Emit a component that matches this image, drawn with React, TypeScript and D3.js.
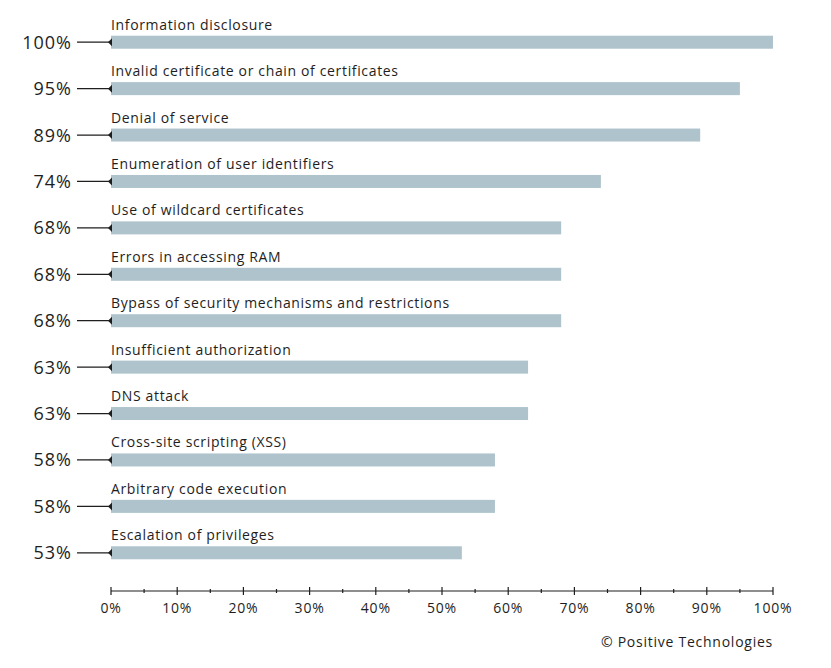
import { useEffect, useRef } from 'react';
import * as d3 from 'd3';

const categories = [
    'Information disclosure',
    'Invalid certificate or chain of certificates',
    'Denial of service',
    'Enumeration of user identifiers',
    'Use of wildcard certificates',
    'Errors in accessing RAM',
    'Bypass of security mechanisms and restrictions',
    'Insufficient authorization',
    'DNS attack',
    'Cross-site scripting (XSS)',
    'Arbitrary code execution',
    'Escalation of privileges',
];
const shares = [100, 95, 89, 74, 68, 68, 68, 63, 63, 58, 58, 53];
const xTicks = [0, 10, 20, 30, 40, 50, 60, 70, 80, 90, 100];

export default function App() {
    const ref = useRef<SVGSVGElement>(null);

    useEffect(() => {
        const svg = d3.select(ref.current);
        svg.selectAll('*').remove();

        const font = '"Open Sans", sans-serif';
        const barColor = '#aec3cc';
        const ink = '#1e1e1e';

        const x = d3.scaleLinear().domain([0, 100]).range([103, 765]);
        const y = d3.scaleBand<number>()
            .domain(d3.range(categories.length))
            .range([11, 568])
            .paddingInner(0);
        const barH = 13;

        const rows = svg.append('g')
            .selectAll('g')
            .data(categories)
            .join('g')
            .attr('transform', (d, i) => `translate(0, ${y(i)! + y.bandwidth() / 2})`);

        // bars
        rows.append('rect')
            .attr('x', x(0))
            .attr('y', -barH / 2)
            .attr('width', (d, i) => x(shares[i]) - x(0))
            .attr('height', barH)
            .attr('fill', barColor);

        // category labels
        rows.append('text')
            .attr('x', x(0))
            .attr('y', -barH / 2 - 6)
            .attr('font-family', font)
            .attr('font-size', 14)
            .attr('letter-spacing', 0.65)
            .attr('fill', ink)
            .text(d => d);

        // connector
        rows.append('line')
            .attr('x1', 69)
            .attr('x2', x(0))
            .attr('stroke', ink)
            .attr('stroke-width', 1.2);

        rows.append('path')
            .attr('d', `M${x(0) - 3},0 L${x(0) + 1},-4 L${x(0) + 1},4 Z`)
            .attr('fill', ink);

        // percentage values
        rows.append('text')
            .attr('x', 64)
            .attr('y', 6.5)
            .attr('text-anchor', 'end')
            .attr('font-family', font)
            .attr('font-size', 18)
            .attr('letter-spacing', 1)
            .attr('fill', ink)
            .text((d, i) => `${shares[i]}%`);

        // x axis
        const axis = svg.append('g').attr('transform', 'translate(0, 583)');
        axis.append('line')
            .attr('x1', x(0))
            .attr('x2', x(100))
            .attr('stroke', ink)
            .attr('stroke-width', 1.2);
        axis.selectAll('line.tick')
            .data(d3.range(0, 101, 5))
            .join('line')
            .attr('class', 'tick')
            .attr('x1', d => x(d))
            .attr('x2', d => x(d))
            .attr('y1', d => (d % 10 === 0 ? -4 : -2))
            .attr('y2', d => (d % 10 === 0 ? 4 : 2))
            .attr('stroke', ink)
            .attr('stroke-width', 1.2);
        axis.selectAll('text')
            .data(xTicks)
            .join('text')
            .attr('x', d => x(d))
            .attr('y', 22)
            .attr('text-anchor', 'middle')
            .attr('font-family', font)
            .attr('font-size', 14)
            .attr('letter-spacing', 0.8)
            .attr('fill', ink)
            .text(d => `${d}%`);

        svg.append('text')
            .attr('x', 765)
            .attr('y', 639)
            .attr('text-anchor', 'end')
            .attr('font-family', font)
            .attr('font-size', 14)
            .attr('letter-spacing', 0.75)
            .attr('fill', ink)
            .text('© Positive Technologies');
    }, []);

    return <svg ref={ref} width={815} height={652} style={{ display: 'block' }}></svg>;
}
